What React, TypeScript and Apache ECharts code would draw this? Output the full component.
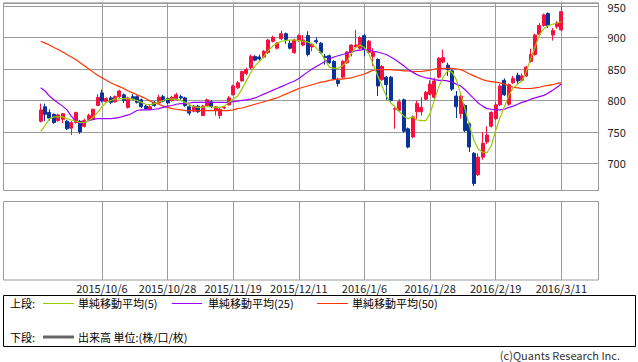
import React, { useEffect, useRef } from 'react';
import * as echarts from 'echarts';

// Trading-day categories (Sep 2015 – Mar 2016) plus a few empty future slots
const dates = [
  '2015/9/1','2015/9/2','2015/9/3','2015/9/4','2015/9/7','2015/9/8','2015/9/9','2015/9/10','2015/9/11','2015/9/14',
  '2015/9/15','2015/9/16','2015/9/17','2015/9/18','2015/9/24','2015/9/25','2015/9/28','2015/9/29','2015/9/30','2015/10/1',
  '2015/10/2','2015/10/5','2015/10/6','2015/10/7','2015/10/8','2015/10/9','2015/10/13','2015/10/14','2015/10/15','2015/10/16',
  '2015/10/19','2015/10/20','2015/10/21','2015/10/22','2015/10/23','2015/10/26','2015/10/27','2015/10/28','2015/10/29','2015/10/30',
  '2015/11/2','2015/11/4','2015/11/5','2015/11/6','2015/11/9','2015/11/10','2015/11/11','2015/11/12','2015/11/13','2015/11/16',
  '2015/11/17','2015/11/18','2015/11/19','2015/11/20','2015/11/24','2015/11/25','2015/11/26','2015/11/27','2015/11/30','2015/12/1',
  '2015/12/2','2015/12/3','2015/12/4','2015/12/7','2015/12/8','2015/12/9','2015/12/10','2015/12/11','2015/12/14','2015/12/15',
  '2015/12/16','2015/12/17','2015/12/18','2015/12/21','2015/12/22','2015/12/24','2015/12/25','2015/12/28','2015/12/29','2015/12/30',
  '2016/1/4','2016/1/5','2016/1/6','2016/1/7','2016/1/8','2016/1/12','2016/1/13','2016/1/14','2016/1/15','2016/1/18',
  '2016/1/19','2016/1/20','2016/1/21','2016/1/22','2016/1/25','2016/1/26','2016/1/27','2016/1/28','2016/1/29','2016/2/1',
  '2016/2/2','2016/2/3','2016/2/4','2016/2/5','2016/2/8','2016/2/9','2016/2/10','2016/2/12','2016/2/15','2016/2/16',
  '2016/2/17','2016/2/18','2016/2/19','2016/2/22','2016/2/23','2016/2/24','2016/2/25','2016/2/26','2016/2/29','2016/3/1',
  '2016/3/2','2016/3/3','2016/3/4','2016/3/7','2016/3/8','2016/3/9','2016/3/10','2016/3/11',
  '2016/3/14','2016/3/15','2016/3/16','2016/3/17','2016/3/18','2016/3/22','2016/3/23','2016/3/24',
];

const tickLabels = ['2015/10/6','2015/10/28','2015/11/19','2015/12/11','2016/1/6','2016/1/28','2016/2/19','2016/3/11'];

const firstDate = '2015/9/11';

const opens = [
  767,790,781,778,768,770,767,756,765,767,
  759,770,770,792,812,798,804,798,806,809,
  789,806,806,801,791,786,797,796,806,803,
  800,802,806,804,790,783,791,776,792,798,
  784,776,788,793,809,820,831,843,852,870,
  869,869,876,894,883,898,906,891,876,895,
  888,903,885,895,891,870,871,862,832,837,
  860,876,885,883,903,876,870,865,833,837,
  837,786,784,801,755,742,782,782,802,810,
  805,837,861,856,847,807,779,792,763,716,
  682,710,734,759,771,793,832,794,828,840,
  832,839,862,873,905,919,938,904,917,912,
];
const closes = [
  785,778,772,765,777,779,755,765,781,750,
  768,776,786,805,799,803,797,806,815,800,
  804,803,797,790,787,790,792,805,799,796,
  805,809,804,792,780,791,782,791,801,790,
  790,786,789,804,823,828,846,849,870,864,
  866,878,896,900,891,906,897,883,896,903,
  896,873,889,893,876,868,860,834,827,862,
  877,888,888,900,881,894,876,823,854,825,
  800,787,798,751,726,774,795,789,813,826,
  831,867,868,849,818,790,807,752,726,668,
  710,732,745,781,793,823,809,825,835,831,
  839,853,873,904,919,936,919,911,923,941,
];
const lows = [
  765,767,768,763,766,764,753,745,763,747,
  757,768,769,791,797,796,794,796,804,796,
  787,801,795,788,785,785,790,795,797,794,
  798,800,801,790,776,781,780,775,791,788,
  776,771,786,792,808,818,830,840,849,862,
  862,867,874,892,881,896,890,881,874,893,
  886,870,878,890,874,857,858,832,822,835,
  858,870,883,881,870,874,855,807,831,801,
  798,755,782,749,724,740,771,776,800,808,
  802,835,859,839,815,772,771,750,718,664,
  680,706,731,757,769,791,807,792,826,826,
  830,837,860,871,903,917,915,895,914,910,
];
const highs = [
  795,795,786,779,779,780,769,767,782,769,
  771,779,787,810,817,805,807,808,817,811,
  806,810,808,803,793,794,799,809,809,805,
  807,812,809,806,794,793,793,793,803,800,
  791,788,791,807,825,831,847,852,873,872,
  873,880,898,903,893,911,908,896,898,905,
  904,910,891,900,893,874,873,864,836,864,
  878,889,912,902,905,896,883,867,856,839,
  839,789,802,803,757,776,800,805,815,832,
  836,869,881,860,849,815,809,794,765,718,
  716,750,759,783,797,826,835,827,839,844,
  843,855,882,906,923,938,940,915,926,949,
];

const ma5 = [
  751,760,771,774,774,774,771,769,767,765,
  765,768,773,781,790,797,800,802,803,803,
  803,802,800,797,794,793,795,798,800,802,
  802,802,800,797,793,790,789,789,790,790,
  789,789,791,797,802,807,818,831,844,855,
  862,870,879,886,891,894,895,896,896,895,
  894,893,890,883,876,864,853,851,851,855,
  862,875,884,888,884,874,857,840,823,807,
  796,790,782,775,771,774,769,768,768,779,
  801,822,837,847,845,833,810,786,760,737,
  723,718,717,728,752,773,790,808,820,826,
  831,846,866,885,904,914,919,921,923,925,
];
const ma25 = [
  820,815,807,801,796,791,785,775,767,764,
  765,768,770,771,771,771,771,772,773,775,
  777,780,784,785,785,785,786,787,789,791,
  792,794,795,795,796,797,797,797,797,797,
  797,797,797,797,798,799,800,801,802,804,
  807,810,813,816,819,822,825,828,831,835,
  840,845,850,854,858,862,866,869,871,873,
  875,877,879,880,881,880,878,877,875,873,
  869,865,860,855,849,845,841,838,836,835,
  833,832,832,831,829,826,823,817,810,803,
  796,791,787,786,785,785,786,789,791,794,
  797,799,802,804,806,808,812,816,821,826,
];
const ma50 = [
  894,891,888,884,881,877,873,869,865,860,
  855,850,845,840,836,832,828,825,822,819,
  815,812,809,806,803,799,796,794,791,789,
  787,786,785,784,784,784,784,784,784,784,
  784,784,784,784,785,787,788,790,792,794,
  796,798,800,802,804,807,810,813,816,819,
  821,823,825,827,829,830,832,833,834,834,
  835,836,838,840,842,845,848,849,849,849,
  849,848,848,847,847,846,846,846,847,848,
  850,851,851,851,851,850,849,846,842,839,
  836,833,831,830,829,828,826,823,821,820,
  819,819,819,820,821,823,824,825,827,828,
];

const UP = '#f7103f';
const DOWN = '#0a3399';
const C_MA5 = '#99cc00';
const C_MA25 = '#9900ff';
const C_MA50 = '#ff3300';
const GRID = '#9a9a9a';
const FONT = '"Noto Sans CJK JP", "Noto Sans", sans-serif';

export default function App() {
  const ref = useRef<HTMLDivElement>(null);

  useEffect(() => {
    if (!ref.current) return;
    const chart = echarts.init(ref.current, undefined, { renderer: 'svg' });
    const start = dates.indexOf(firstDate);
    const pad = (arr: number[]) =>
      dates.map((_, i) => {
        const k = i - start;
        return k >= 0 && k < arr.length ? arr[k] : '-';
      });
    const candles = dates.map((_, i) => {
      const k = i - start;
      return k >= 0 && k < opens.length ? [opens[k], closes[k], lows[k], highs[k]] : '-';
    });
    const showTick = (_i: number, v: string) => tickLabels.includes(v);

    const gridL = 3.5;
    const gridR = 39.5;

    const line = (name: string, data: any[], color: string) => ({
      name,
      type: 'line',
      xAxisIndex: 0,
      yAxisIndex: 0,
      data,
      symbol: 'none',
      lineStyle: { color, width: 1.2 },
      itemStyle: { color },
      z: 3,
    });

    const legendY1 = 303;
    const legendY2 = 337;
    const txt = (text: string, x: number, y: number, extra: any = {}) => ({
      type: 'text',
      x,
      y,
      style: {
        text,
        fill: '#000',
        fontSize: 11,
        fontFamily: FONT,
        verticalAlign: 'middle',
        align: 'left',
        ...extra,
      },
    });
    const seg = (x1: number, x2: number, y: number, color: string, w = 1) => ({
      type: 'line',
      shape: { x1, y1: y, x2, y2: y },
      style: { stroke: color, lineWidth: w },
    });

    chart.setOption({
      animation: false,
      backgroundColor: '#fff',
      textStyle: { fontFamily: FONT },
      grid: [
        { left: gridL, right: gridR, top: 1.5, height: 189, show: true, borderColor: GRID, borderWidth: 1, backgroundColor: 'transparent' },
        { left: gridL, right: gridR, top: 201.5, height: 78.5, show: true, borderColor: GRID, borderWidth: 1, backgroundColor: 'transparent' },
      ],
      xAxis: [
        {
          type: 'category',
          gridIndex: 0,
          data: dates,
          boundaryGap: true,
          axisLine: { show: false },
          axisTick: { show: false },
          axisLabel: { show: false },
          splitLine: { show: true, interval: showTick, alignWithLabel: true, lineStyle: { color: GRID, width: 1 } },
        },
        {
          type: 'category',
          gridIndex: 1,
          data: dates,
          boundaryGap: true,
          axisLine: { show: false },
          axisTick: { show: false },
          axisLabel: {
            show: true,
            interval: showTick,
            color: '#222',
            fontSize: 11,
            fontFamily: FONT,
            margin: 2,
            lineHeight: 12,
          },
          splitLine: { show: true, interval: showTick, alignWithLabel: true, lineStyle: { color: GRID, width: 1 } },
        },
      ],
      yAxis: [
        {
          type: 'value',
          gridIndex: 0,
          position: 'right',
          min: 657,
          max: 955,
          minInterval: 50,
          maxInterval: 50,
          axisLine: { show: false },
          axisTick: { show: false },
          axisLabel: {
            show: true,
            color: '#222',
            fontSize: 11,
            lineHeight: 8,
            fontFamily: FONT,
            margin: 9,
            showMinLabel: false,
            showMaxLabel: false,
            formatter: (v: number) => (v >= 950 ? '{top|' + v + '}' : String(v)),
            rich: {
              top: { color: '#222', fontSize: 11, fontFamily: FONT, lineHeight: 8, padding: [1, 0, 0, 0] },
            },
          },
          splitLine: { show: true, lineStyle: { color: GRID, width: 1 } },
        },
        {
          type: 'value',
          gridIndex: 1,
          position: 'right',
          min: 0,
          max: 1,
          axisLine: { show: false },
          axisTick: { show: false },
          axisLabel: { show: false },
          splitLine: { show: false },
        },
      ],
      series: [
        {
          name: 'price',
          type: 'candlestick',
          xAxisIndex: 0,
          yAxisIndex: 0,
          data: candles,
          barWidth: 3.4,
          itemStyle: { color: UP, color0: DOWN, borderColor: UP, borderColor0: DOWN, borderWidth: 1 },
          z: 2,
        },
        line('単純移動平均(50)', pad(ma50), C_MA50),
        line('単純移動平均(25)', pad(ma25), C_MA25),
        line('単純移動平均(5)', pad(ma5), C_MA5),
        {
          name: '出来高',
          type: 'bar',
          xAxisIndex: 1,
          yAxisIndex: 1,
          data: dates.map(() => '-'),
          itemStyle: { color: '#666' },
        },
      ],
      graphic: [
        {
          type: 'rect',
          shape: { x: 3.5, y: 295.5, width: 632, height: 51 },
          style: { fill: 'none', stroke: '#000', lineWidth: 1 },
        },
        txt('上段:', 10, legendY1),
        seg(43, 74, legendY1 + 0.5, C_MA5),
        txt('単純移動平均(5)', 78, legendY1),
        seg(172, 202, legendY1 + 0.5, C_MA25),
        txt('単純移動平均(25)', 208, legendY1),
        seg(317, 348, legendY1 + 0.5, C_MA50),
        txt('単純移動平均(50)', 352, legendY1),
        txt('下段:', 10, legendY2),
        seg(43, 74, legendY2, '#666', 3),
        txt('出来高 単位:(株/口/枚)', 78, legendY2),
        txt('(c)Quants Research Inc.', 620, 355, { align: 'right', fill: '#333' }),
      ],
    });

    return () => chart.dispose();
  }, []);

  return (
    <div
      ref={ref}
      style={{ position: 'fixed', left: 0, top: 0, width: 638, height: 362, background: '#fff' }}
    />
  );
}
